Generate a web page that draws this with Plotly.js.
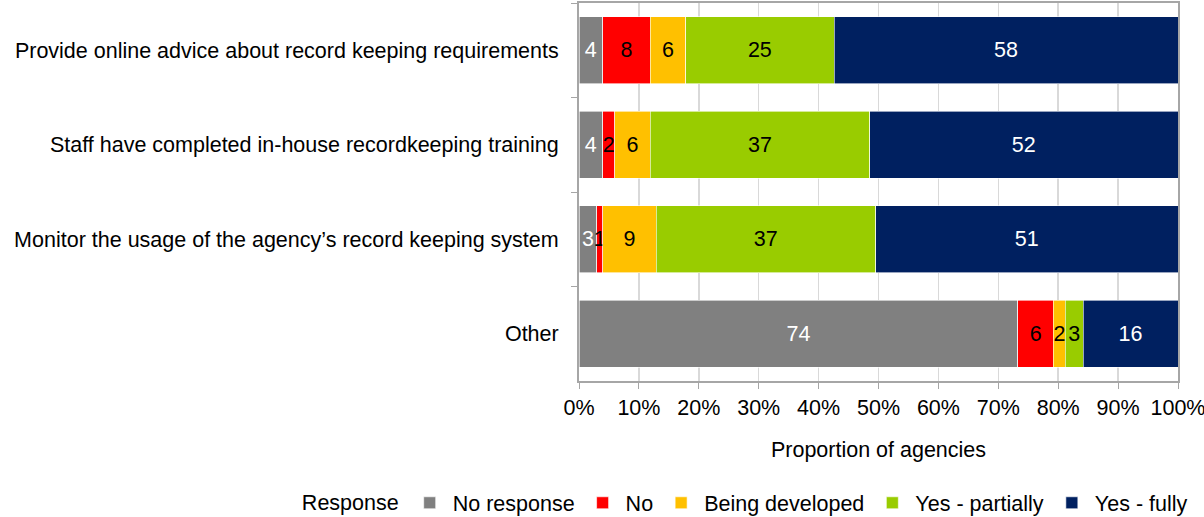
<!DOCTYPE html>
<html>
<head>
<meta charset="utf-8">
<script src="https://cdn.plot.ly/plotly-3.0.1.min.js"></script>
<style>html,body{margin:0;padding:0;background:#fff;}#chart{width:1204px;height:517px;}</style>
</head>
<body>
<div id="chart"></div>
<script>
const categories = [
  "Provide online advice about record keeping requirements",
  "Staff have completed in-house recordkeeping training",
  "Monitor the usage of the agency\u2019s record keeping system",
  "Other"
];
const seriesNames = ["No response", "No", "Being developed", "Yes - partially", "Yes - fully"];
const noResponse = [4, 4, 3, 74];
const no = [8, 2, 1, 6];
const beingDeveloped = [6, 6, 9, 2];
const yesPartially = [25, 37, 37, 3];
const yesFully = [58, 52, 51, 16];
const xTickVals = [0, 10, 20, 30, 40, 50, 60, 70, 80, 90, 100];
const xTickText = ["0%", "10%", "20%", "30%", "40%", "50%", "60%", "70%", "80%", "90%", "100%"];

const seriesValues = [noResponse, no, beingDeveloped, yesPartially, yesFully];
const colors = ["#808080", "#FF0000", "#FFC000", "#99CC00", "#002060"];
const textColors = ["#ffffff", "#000000", "#000000", "#000000", "#ffffff"];
const FONT = "Liberation Sans, Arial, sans-serif";
const FS = 21.5;

const traces = seriesNames.map((name, i) => ({
  type: "bar",
  orientation: "h",
  name: name,
  y: categories,
  x: seriesValues[i],
  text: seriesValues[i].map(String),
  textposition: "inside",
  insidetextanchor: "middle",
  textangle: 0,
  constraintext: "none",
  cliponaxis: false,
  insidetextfont: {family: FONT, size: FS, color: textColors[i]},
  marker: {color: colors[i], line: {color: "#ffffff", width: 0.6}},
  hoverinfo: "x+name"
}));

const layout = {
  width: 1204,
  height: 517,
  barmode: "stack",
  barnorm: "percent",
  bargap: 0.29,
  paper_bgcolor: "#ffffff",
  plot_bgcolor: "#ffffff",
  font: {family: FONT, size: FS, color: "#000000"},
  margin: {l: 579, r: 26, t: 3, b: 136, autoexpand: false},
  xaxis: {
    range: [0, 100],
    tickvals: xTickVals,
    ticktext: xTickText,
    ticks: "outside",
    ticklen: 6,
    tickcolor: "#a6a6a6",
    showline: true,
    linecolor: "#a6a6a6",
    linewidth: 2,
    mirror: true,
    showgrid: true,
    gridcolor: "#d9d9d9",
    gridwidth: 1.5,
    zeroline: false,
    automargin: false,
    ticklabeloverflow: "allow",
    tickfont: {family: FONT, size: FS, color: "#000000"},
    title: {text: "Proportion of agencies", font: {family: FONT, size: FS, color: "#000000"}, standoff: 23},
    fixedrange: true
  },
  yaxis: {
    autorange: "reversed",
    tickson: "boundaries",
    ticks: "outside",
    ticklen: 6,
    tickcolor: "#a6a6a6",
    showline: true,
    linecolor: "#a6a6a6",
    linewidth: 2,
    mirror: true,
    showgrid: false,
    automargin: false,
    ticklabeloverflow: "allow",
    ticklabelstandoff: 14,
    tickfont: {family: FONT, size: FS, color: "#000000"},
    fixedrange: true
  },
  legend: {
    orientation: "h",
    x: -0.466,
    xanchor: "left",
    y: -0.268,
    yanchor: "top",
    font: {family: FONT, size: FS, color: "#000000"},
    title: {text: "Response", font: {family: FONT, size: FS, color: "#000000"}},
    traceorder: "normal",
    itemwidth: 36
  },
  showlegend: true
};

Plotly.newPlot("chart", traces, layout, {displayModeBar: false, staticPlot: true});
</script>
</body>
</html>
